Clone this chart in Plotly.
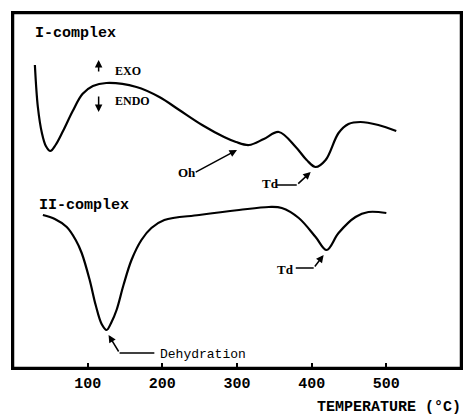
import plotly.graph_objects as go

# Curve I-complex (temperature °C, arbitrary DTA signal)
t1 = [29.3, 33.3, 38.7, 44, 50, 57, 67, 80, 93, 107, 125, 165.3, 196,
      222.7, 253.3, 282.7, 298.7, 316, 336, 356, 378.7, 393.3, 405.3, 418.7, 436,
      449.3, 465.3, 489.3, 513.3]
s1 = [303, 261, 235, 222, 217, 223, 237, 257, 274, 282, 285, 281, 271,
      258, 243, 231, 226, 223, 229, 236, 221, 208, 201, 208, 235,
      244, 246, 243, 237]

# Curve II-complex
t2 = [40, 56, 72, 84, 92, 102.7, 110.7, 118.7, 125.3, 132, 138.7, 148, 158.7, 172,
      185.3, 202.7, 249.3, 302.7, 342.7, 360, 382.7, 405.3, 420, 436, 458.7, 476, 500]
s2 = [153, 149, 141, 128, 115, 88, 63, 44, 38, 46, 58, 83, 108, 128,
      140, 148, 153, 158, 161, 160, 150, 131, 118, 135, 151, 156, 155]

tick_vals = [100, 200, 300, 400, 500]
tick_text = ["100", "200", "300", "400", "500"]

mono = "Liberation Mono"
serif = "Liberation Serif"

fig = go.Figure()
for t, s in [(t1, s1), (t2, s2)]:
    fig.add_trace(go.Scatter(x=t, y=s, mode="lines",
                             line=dict(color="black", width=2.2, shape="spline", smoothing=1.0),
                             hoverinfo="skip", showlegend=False))

# plot frame (explicit lines on all four sides)
for (x0, y0, x1, y1) in [(0, 1, 1, 1), (1, 0, 1, 1), (0, 0, 1, 0), (0, 0, 0, 1)]:
    fig.add_shape(type="line", x0=x0, y0=y0, x1=x1, y1=y1, xref="paper", yref="paper",
                  line=dict(color="black", width=2.5), layer="above")

# bent leader lines (horizontal parts)
for (xa, xb, yv) in [(353.3, 380, 183), (378.7, 402.7, 100), (142.7, 189.3, 15)]:
    fig.add_shape(type="line", x0=xa, x1=xb, y0=yv, y1=yv, xref="x", yref="y",
                  line=dict(color="black", width=1.5))

ann = []
def arrow(x, y, ax, ay):
    ann.append(dict(x=x, y=y, ax=ax, ay=ay, xref="x", yref="y", axref="x", ayref="y",
                    showarrow=True, arrowhead=2, arrowsize=1, arrowwidth=1.5,
                    arrowcolor="black", standoff=0, text=""))

arrow(300, 218, 242.7, 195)      # Oh
arrow(398.7, 196, 380, 183)      # Td I
arrow(416, 113, 402.7, 100)      # Td II
arrow(128, 33, 142.7, 15)        # Dehydration
arrow(114.7, 308, 114.7, 295)    # EXO
arrow(114.7, 256, 114.7, 273)    # ENDO

def text(x, y, s, font, size, bold=True):
    ann.append(dict(x=x, y=y, xref="x", yref="y", text=s, showarrow=False,
                    xanchor="left", yanchor="middle",
                    font=dict(family=font, size=size, color="black", weight="bold" if bold else "normal")))

text(26.7, 335, "I-complex", mono, 15)
text(32, 163, "II-complex", mono, 15)
text(133.3, 297, "EXO", serif, 12)
text(133.3, 267, "ENDO", serif, 12)
text(218, 196, "Oh", serif, 13)
text(331, 185, "Td", serif, 13)
text(351, 99, "Td", serif, 13)
text(194.7, 14, "Dehydration", mono, 13, bold=False)

ann.append(dict(x=1.005, y=-0.11, xref="paper", yref="paper", text="TEMPERATURE (°C)",
                showarrow=False, xanchor="right", yanchor="middle",
                font=dict(family=mono, size=15, color="black", weight="bold")))

fig.update_layout(
    width=468, height=418,
    margin=dict(l=13, r=5, t=13, b=50),
    paper_bgcolor="white", plot_bgcolor="white",
    annotations=ann,
    xaxis=dict(range=[0, 600], tickvals=tick_vals, ticktext=tick_text,
               ticks="inside", ticklen=5, tickwidth=1.5, tickcolor="black",
               showgrid=False, zeroline=False, showline=True, linecolor="black",
               linewidth=2, mirror=True,
               tickfont=dict(family=mono, size=15, color="black", weight="bold")),
    yaxis=dict(range=[0, 355], showticklabels=False, ticks="", showgrid=False,
               zeroline=False, showline=True, linecolor="black", linewidth=2, mirror=True),
)

fig.write_html("out.html", config={"displayModeBar": False})

# remove the browser's default page margin so the figure fills the window exactly
with open("out.html", "r", encoding="utf-8") as f:
    html = f.read()
html = html.replace("<head>", "<head><style>html,body{margin:0;padding:0;overflow:hidden;}</style>", 1)
with open("out.html", "w", encoding="utf-8") as f:
    f.write(html)
